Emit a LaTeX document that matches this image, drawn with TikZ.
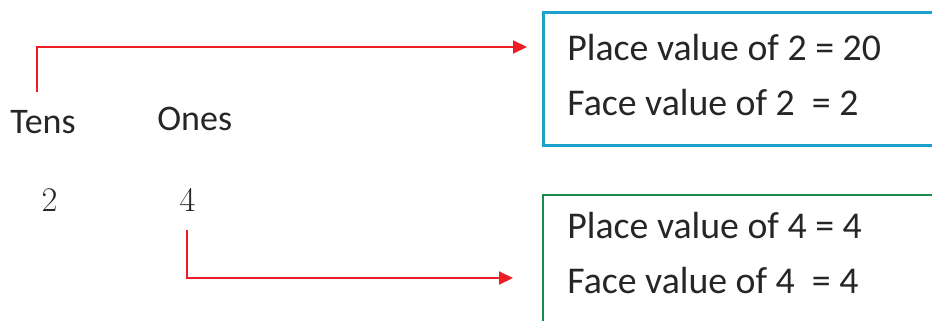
\documentclass[tikz,border=0pt]{standalone}
\usepackage{fontspec}
\setmainfont{Carlito}
\usetikzlibrary{arrows.meta,positioning}
\definecolor{arrowred}{RGB}{235,30,36}
\definecolor{boxblue}{RGB}{28,160,204}
\definecolor{boxgreen}{RGB}{24,140,72}
\tikzset{
    pointer/.style={draw=arrowred, line width=1pt, -{Triangle[length=7pt,width=6.5pt]}},
    headlabel/.style={anchor=base west, inner sep=0, font=\fontsize{18}{21}\selectfont, text=black!85},
    digitlabel/.style={anchor=base, inner sep=0, font=\fontsize{16}{19}\selectfont, text=black!85},
    valueline/.style={anchor=base west, inner sep=0, font=\fontsize{18.9}{22}\selectfont, text=black!85},
    valuebox/.style={draw, anchor=north west, inner sep=0, minimum width=230pt}
}
\begin{document}
\begin{tikzpicture}[x=0.5pt,y=-0.5pt]
    \useasboundingbox (0,0) rectangle (932,321);

    % column headings and digits
    \node[headlabel] (tens) at (10,133) {Tens};
    \node[headlabel] (ones) at (157,130) {Ones};
    \node[digitlabel] (digitTwo) at (49.5,211) {$2$};
    \node[digitlabel] (digitFour) at (187.5,211) {$4$};

    % boxes
    \node[valuebox, draw=boxblue, line width=1.25pt, minimum height=66.5pt] (boxTwo) at (542,11) {};
    \node[valuebox, draw=boxgreen, line width=1.1pt, minimum height=80pt] (boxFour) at (542,194) {};

    \node[valueline] (placeTwo) at (567,61) {Place value of 2 = 20};
    \node[valueline] (faceTwo) at (567,115) {Face value of 2 \ = 2};
    \node[valueline] (placeFour) at (567,238) {Place value of 4 = 4};
    \node[valueline] (faceFour) at (567,293) {Face value of 4 \ = 4};

    % arrows
    \coordinate (tensStart) at (37,92);
    \coordinate (tensEnd) at (527,47);
    \coordinate (onesStart) at (187,230);
    \coordinate (onesEnd) at (513,278);
    \draw[pointer] (tensStart) |- (tensEnd);
    \draw[pointer] (onesStart) |- (onesEnd);
\end{tikzpicture}
\end{document}
